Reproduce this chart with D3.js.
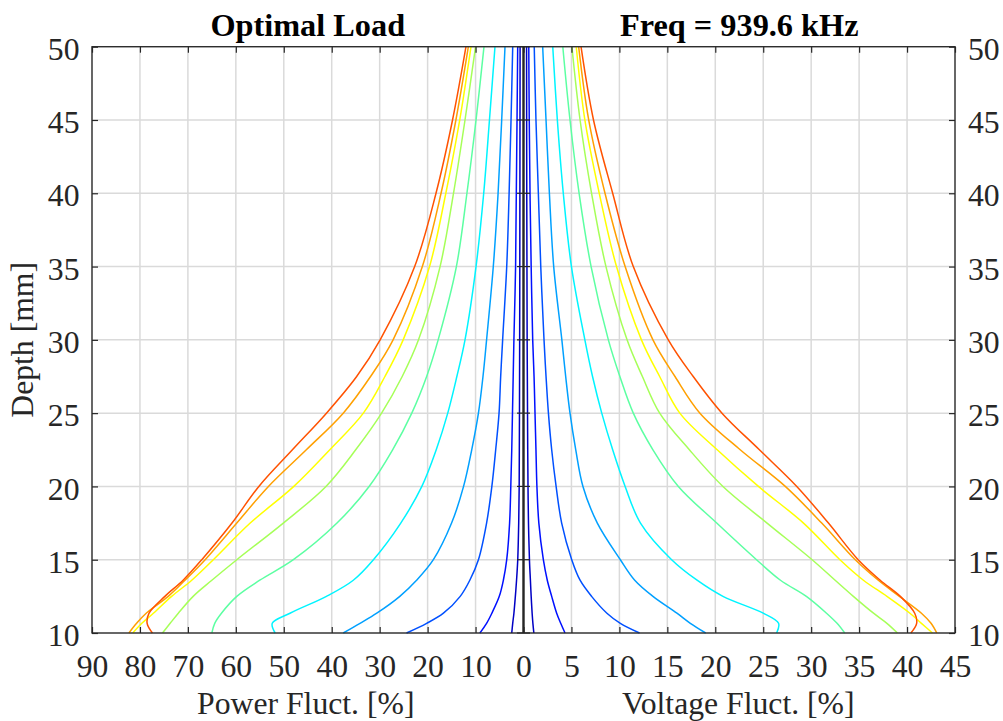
<!DOCTYPE html>
<html><head><meta charset="utf-8">
<script src="https://cdn.jsdelivr.net/npm/d3@7"></script>
<style>
body{margin:0;background:#fff}
svg{display:block}
text{font-family:"Liberation Serif","Times New Roman",serif}
</style>
</head><body>
<svg id="chart" width="1003" height="721"></svg>
<script>
// ---------- data ----------
const depthMm = [10, 10.66, 11.35, 12.5, 13.6, 15, 17.5, 20, 22.5, 25, 27.5, 30, 35, 40, 45, 50];
const powerTicks = [90, 80, 70, 60, 50, 40, 30, 20, 10, 0];
const voltageTicks = [5, 10, 15, 20, 25, 30, 35, 40, 45];
const depthTicks = [10, 15, 20, 25, 30, 35, 40, 45, 50];
const titleLeft = "Optimal Load";
const titleRight = "Freq = 939.6 kHz";

// Power fluctuation [%] (left half), one array per contour level, inner -> outer
const power1 = [2.45, 2.25, 2.0, 1.7, 1.45, 1.2, 1.0, 0.9, 0.87, 0.84, 0.82, 0.8, 0.77, 0.75, 0.73, 0.71];
const power2 = [9.1, 7.7, 6.6, 5.05, 4.2, 3.5, 2.9, 2.65, 2.45, 2.3, 2.15, 2.0, 1.65, 1.5, 1.35, 1.21];
const power3 = [24.4, 20.2, 16.7, 13.2, 11.2, 9.4, 7.7, 6.6, 5.8, 5.1, 4.76, 4.35, 3.5, 3.0, 2.6, 2.25];
const power4 = [37.6, 34.1, 30.6, 25.8, 22.3, 18.8, 15.0, 12.5, 10.8, 9.4, 8.45, 7.7, 6.3, 5.3, 4.55, 3.86];
const power5 = [51.8, 52.4, 48.7, 41.1, 35.5, 31.3, 25.6, 21.2, 18.2, 15.8, 13.9, 12.2, 9.9, 8.3, 7.1, 5.95];
const power6 = [65.0, 64.4, 63.0, 59.8, 55.0, 48.0, 38.9, 32.2, 27.3, 23.3, 20.2, 17.8, 14.0, 11.8, 9.9, 8.24];
const power7 = [75.3, 73.7, 72.0, 68.9, 65.0, 59.8, 50.1, 41.2, 35.0, 29.6, 25.3, 21.9, 17.4, 14.6, 12.2, 10.0];
const power8 = [81.5, 79.6, 77.2, 73.4, 69.2, 64.7, 57.0, 47.9, 40.4, 33.4, 28.9, 25.1, 19.6, 16.2, 13.3, 10.95];
const power9 = [82.3, 80.7, 78.7, 74.1, 70.6, 66.4, 59.8, 53.2, 45.3, 37.6, 31.9, 27.2, 21.1, 17.2, 14.1, 11.5];
const power10 = [77.4, 78.5, 78.1, 74.8, 71.0, 67.1, 60.8, 55.2, 48.2, 41.1, 34.8, 29.9, 22.7, 18.25, 14.8, 12.0];

// Voltage fluctuation [%] (right half)
const voltage1 = [1.08, 0.98, 0.9, 0.8, 0.72, 0.62, 0.52, 0.47, 0.44, 0.42, 0.4, 0.38, 0.36, 0.34, 0.33, 0.32];
const voltage2 = [4.33, 3.88, 3.46, 2.94, 2.48, 2.07, 1.6, 1.4, 1.3, 1.2, 1.1, 0.96, 0.8, 0.68, 0.6, 0.55];
const voltage3 = [12.1, 10.1, 8.7, 7.1, 5.9, 5.03, 3.98, 3.4, 2.94, 2.6, 2.35, 2.14, 1.8, 1.55, 1.3, 1.12];
const voltage4 = [19.0, 17.4, 16.0, 13.5, 11.6, 10.1, 7.7, 6.2, 5.45, 4.85, 4.4, 4.0, 3.15, 2.7, 2.35, 2.0];
const voltage5 = [26.4, 26.6, 25.0, 20.8, 18.1, 15.45, 12.2, 10.6, 9.3, 8.16, 7.2, 6.4, 5.0, 4.15, 3.53, 3.05];
const voltage6 = [33.5, 32.7, 31.6, 29.5, 26.8, 24.3, 20.15, 16.15, 13.5, 11.45, 10.05, 8.85, 7.05, 5.8, 4.85, 4.1];
const voltage7 = [39.0, 37.9, 36.5, 34.4, 32.5, 30.1, 25.4, 20.8, 17.3, 14.2, 12.4, 10.8, 8.6, 7.1, 5.9, 5.05];
const voltage8 = [42.65, 41.5, 40.3, 37.9, 35.45, 33.0, 29.2, 24.5, 20.2, 16.3, 14.2, 12.3, 9.7, 7.9, 6.4, 5.5];
const voltage9 = [43.1, 42.5, 41.5, 39.2, 37.0, 34.6, 31.1, 27.3, 22.6, 18.4, 15.8, 13.5, 10.6, 8.5, 6.8, 5.75];
const voltage10 = [40.4, 41.0, 40.8, 39.3, 37.2, 34.9, 31.8, 28.5, 24.6, 20.7, 17.7, 15.1, 11.45, 9.3, 7.3, 6.0];

const powerSeries = [power1, power2, power3, power4, power5, power6, power7, power8, power9, power10];
const voltageSeries = [voltage1, voltage2, voltage3, voltage4, voltage5, voltage6, voltage7, voltage8, voltage9, voltage10];

// ---------- styles ----------
const levelColors = ["#0000c4", "#0010ff", "#0050ff", "#00a0ff", "#00f4ff",
                     "#5cffa2", "#a6ff58", "#ffff00", "#ffa000", "#ff5200"];
const axisColor = "#262626";
const gridColor = "#dadada";
const serif = '"Liberation Serif","Times New Roman",serif';

// ---------- layout ----------
const L = 92, R = 955, T = 46.7, B = 633;
const C = (L + R) / 2;
const svg = d3.select("#chart");

const xPower = d3.scaleLinear().domain([90, 0]).range([L, C]);
const xVoltage = d3.scaleLinear().domain([0, 45]).range([C, R]);
const y = d3.scaleLinear().domain([10, 50]).range([B, T]);

// grid
const grid = svg.append("g");
powerTicks.forEach(t => grid.append("line")
  .attr("x1", xPower(t)).attr("x2", xPower(t)).attr("y1", T).attr("y2", B)
  .attr("stroke", gridColor).attr("stroke-width", 1.5));
voltageTicks.forEach(t => grid.append("line")
  .attr("x1", xVoltage(t)).attr("x2", xVoltage(t)).attr("y1", T).attr("y2", B)
  .attr("stroke", gridColor).attr("stroke-width", 1.5));
depthTicks.forEach(t => grid.append("line")
  .attr("x1", L).attr("x2", R).attr("y1", y(t)).attr("y2", y(t))
  .attr("stroke", gridColor).attr("stroke-width", 1.5));

// curves
const plot = svg.append("g");
const powerLine = d3.line().x(d => xPower(d[1])).y(d => y(d[0])).curve(d3.curveCatmullRom.alpha(0.5));
const voltageLine = d3.line().x(d => xVoltage(d[1])).y(d => y(d[0])).curve(d3.curveCatmullRom.alpha(0.5));
powerSeries.forEach((s, i) => plot.append("path")
  .attr("d", powerLine(depthMm.map((d, k) => [d, s[k]])))
  .attr("fill", "none").attr("stroke", levelColors[i]).attr("stroke-width", 1.5));
voltageSeries.forEach((s, i) => plot.append("path")
  .attr("d", voltageLine(depthMm.map((d, k) => [d, s[k]])))
  .attr("fill", "none").attr("stroke", levelColors[i]).attr("stroke-width", 1.5));

// center axis
svg.append("line").attr("x1", C).attr("x2", C).attr("y1", T).attr("y2", B)
  .attr("stroke", axisColor).attr("stroke-width", 2.4);
depthTicks.forEach(t => svg.append("line")
  .attr("x1", C - 6.5).attr("x2", C + 6.5).attr("y1", y(t)).attr("y2", y(t))
  .attr("stroke", axisColor).attr("stroke-width", 1.2));

// axes (ticks inward)
const fs = 31.7;
function styleAxis(g) {
  g.attr("font-family", null).attr("font-size", null);
  g.select(".domain").remove();
  g.selectAll(".tick line").attr("stroke", axisColor).attr("stroke-width", 1.2);
  g.selectAll(".tick text").attr("fill", axisColor)
    .style("font-size", fs + "px").style("font-family", serif);
}
svg.append("g").attr("transform", `translate(0,${B})`)
  .call(d3.axisBottom(xPower).tickValues(powerTicks).tickSize(-6).tickPadding(21.5))
  .call(styleAxis);
svg.append("g").attr("transform", `translate(0,${B})`)
  .call(d3.axisBottom(xVoltage).tickValues(voltageTicks).tickSize(-6).tickPadding(21.5))
  .call(styleAxis);
svg.append("g").attr("transform", `translate(0,${T})`)
  .call(d3.axisTop(xPower).tickValues(powerTicks).tickSize(-6).tickFormat(""))
  .call(styleAxis);
svg.append("g").attr("transform", `translate(0,${T})`)
  .call(d3.axisTop(xVoltage).tickValues(voltageTicks).tickSize(-6).tickFormat(""))
  .call(styleAxis);
svg.append("g").attr("transform", `translate(${L},0)`)
  .call(d3.axisLeft(y).tickValues(depthTicks).tickSize(-6).tickPadding(12.5))
  .call(styleAxis)
  .call(g => g.selectAll(".tick text").attr("dy", null).attr("y", 12.6));
svg.append("g").attr("transform", `translate(${R},0)`)
  .call(d3.axisRight(y).tickValues(depthTicks).tickSize(-6).tickPadding(13))
  .call(styleAxis)
  .call(g => g.selectAll(".tick text").attr("dy", null).attr("y", 12.6));

// box
svg.append("rect").attr("x", L).attr("y", T).attr("width", R - L).attr("height", B - T)
  .attr("fill", "none").attr("stroke", axisColor).attr("stroke-width", 1.3);

// labels
svg.append("text").attr("x", (L + C) / 2).attr("y", 36).attr("text-anchor", "middle")
  .attr("font-weight", "bold").style("font-size", "32.3px").attr("fill", "#000").text(titleLeft);
svg.append("text").attr("x", (C + R) / 2).attr("y", 36).attr("text-anchor", "middle")
  .attr("font-weight", "bold").style("font-size", "32.3px").attr("fill", "#000").text(titleRight);
svg.append("text").attr("x", (L + C) / 2 - 2).attr("y", 714).attr("text-anchor", "middle")
  .style("font-size", fs + "px").attr("fill", axisColor).text("Power Fluct. [%]");
svg.append("text").attr("x", (C + R) / 2 - 1).attr("y", 714).attr("text-anchor", "middle")
  .style("font-size", fs + "px").attr("fill", axisColor).text("Voltage Fluct. [%]");
svg.append("text").attr("transform", `translate(33,${(T + B) / 2}) rotate(-90)`)
  .attr("text-anchor", "middle").style("font-size", fs + "px").attr("fill", axisColor).text("Depth [mm]");
</script>
</body></html>
